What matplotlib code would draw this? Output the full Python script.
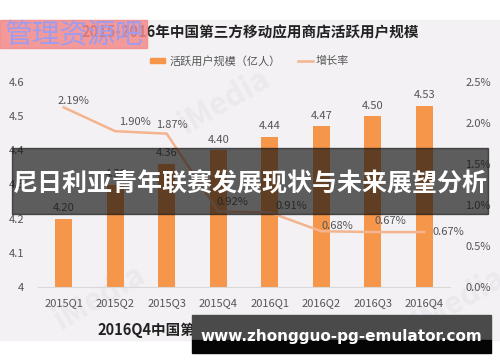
import matplotlib.pyplot as plt
from matplotlib.patches import Rectangle

plt.rcParams['font.family'] = ['Noto Sans CJK SC', 'DejaVu Sans']

# 数据
quarters = ["2015Q1", "2015Q2", "2015Q3", "2015Q4", "2016Q1", "2016Q2", "2016Q3", "2016Q4"]
users = [4.20, 4.30, 4.36, 4.40, 4.44, 4.47, 4.50, 4.53]
growth = [2.19, 1.90, 1.87, 0.92, 0.91, 0.68, 0.67, 0.67]
# 增长率标签的偏移（像素）
growth_dx = [10, 20, 5, 14, 22, 16, 18, 24]
growth_dy = [6, 9, 9, 10, 6, 5, 11, 0]

bar_color = '#f5964a'
line_color = '#f4b48e'
text_color = '#555555'

fig = plt.figure(figsize=(5, 3.62), dpi=100)
fig.patch.set_facecolor('white')
fig.patches.append(Rectangle((0, 22 / 362), 1, 320 / 362, transform=fig.transFigure,
                             color='#f3f1f4', zorder=-5))

# 水印
for wx, wy in [(0.2, 0.18), (0.45, 0.72), (0.92, 0.17)]:
    fig.text(wx, wy, "iMedia", fontsize=22, fontweight='bold', color='#ebe9ed',
             rotation=30, ha='center', va='center', zorder=-4)

ax = fig.add_axes([38 / 500, 75 / 362, 412 / 500, 205 / 362])
ax.set_facecolor('none')
x = list(range(len(quarters)))
ax.bar(x, users, width=0.33, color=bar_color, zorder=2)
ax.set_ylim(4, 4.6)
ax.set_xlim(-0.5, len(quarters) - 0.5)
ax.set_yticks([4, 4.1, 4.2, 4.3, 4.4, 4.5, 4.6])
ax.set_yticklabels(["4", "4.1", "4.2", "4.3", "4.4", "4.5", "4.6"])
ax.set_xticks(x)
ax.set_xticklabels(quarters)
for s in ['top', 'right', 'left']:
    ax.spines[s].set_visible(False)
ax.spines['bottom'].set_color('#d8d8d8')
ax.tick_params(length=0, labelsize=8, colors=text_color, pad=8)
ax.tick_params(axis='y', pad=10)
for xi, v in zip(x, users):
    ax.annotate(f"{v:.2f}", (xi, v), xytext=(0, 4), textcoords='offset points',
                ha='center', va='bottom', fontsize=8, color=text_color)

ax2 = ax.twinx()
ax2.plot(x, growth, color=line_color, lw=1.8, zorder=3)
ax2.set_ylim(0, 2.5)
ax2.set_yticks([0, 0.5, 1.0, 1.5, 2.0, 2.5])
ax2.set_yticklabels(["0.0%", "0.5%", "1.0%", "1.5%", "2.0%", "2.5%"])
for s in ['top', 'right', 'left', 'bottom']:
    ax2.spines[s].set_visible(False)
ax2.tick_params(length=0, labelsize=8, colors=text_color, pad=11)
for i, (xi, v) in enumerate(zip(x, growth)):
    ax2.annotate(f"{v:.2f}%", (xi, v), xytext=(growth_dx[i] * 0.72, growth_dy[i] * 0.72),
                 textcoords='offset points', ha='center', va='center',
                 fontsize=8, color=text_color)

# 标题与图例
fig.text(0.5, 1 - 32 / 362, "2015-2016年中国第三方移动应用商店活跃用户规模",
         ha='center', va='center', fontsize=10.5, fontweight='bold', color='#222222')
fig.patches.append(Rectangle((150 / 500, 1 - 63 / 362), 15 / 500, 5 / 362,
                             transform=fig.transFigure, color=bar_color))
fig.text(170 / 500, 1 - 61 / 362, "活跃用户规模（亿人）", ha='left', va='center',
         fontsize=8, color=text_color)
fig.lines.append(plt.Line2D([298 / 500, 313 / 500], [1 - 61 / 362, 1 - 61 / 362],
                            transform=fig.transFigure, color=line_color, lw=1.8))
fig.text(316 / 500, 1 - 61 / 362, "增长率", ha='left', va='center',
         fontsize=8, color=text_color)

# 底部标题
fig.text(97 / 500, 1 - 330 / 362, "2016Q4中国第三方移动应用商店活跃用户分布",
         ha='left', va='center', fontsize=10.5, fontweight='bold', color='#222222')

# 左上角水印
fig.patches.append(Rectangle((0, 1 - 48 / 362), 147 / 500, 28 / 362,
                             transform=fig.transFigure, color='#f48a8a', alpha=0.85, zorder=5))
fig.text(5 / 500, 1 - 35 / 362, "管理资源吧", ha='left', va='center', fontsize=20,
         color='#9c9cf0', zorder=6)

# 横幅
fig.patches.append(Rectangle((12 / 500, 1 - 214 / 362), 476 / 500, 66 / 362,
                             transform=fig.transFigure, color='#111111', alpha=0.66, zorder=5))
fig.text(0.5, 1 - 184 / 362, "尼日利亚青年联赛发展现状与未来展望分析", ha='center', va='center',
         fontsize=18, fontweight='bold', color='white', zorder=6)

# 底部网址
fig.patches.append(Rectangle((192 / 500, 1 - 340 / 362), 299 / 500, 25 / 362,
                             transform=fig.transFigure, color='#4a4a4a', zorder=5))
fig.patches.append(Rectangle((192 / 500, 1 - 353 / 362), 299 / 500, 13 / 362,
                             transform=fig.transFigure, color='#050505', zorder=5))
fig.text(341 / 500, 1 - 337 / 362, "www.zhongguo-pg-emulator.com", ha='center', va='center',
         fontsize=11, fontweight='bold', color='white', family='DejaVu Sans', zorder=6)

fig.savefig('out.png', dpi=100)
